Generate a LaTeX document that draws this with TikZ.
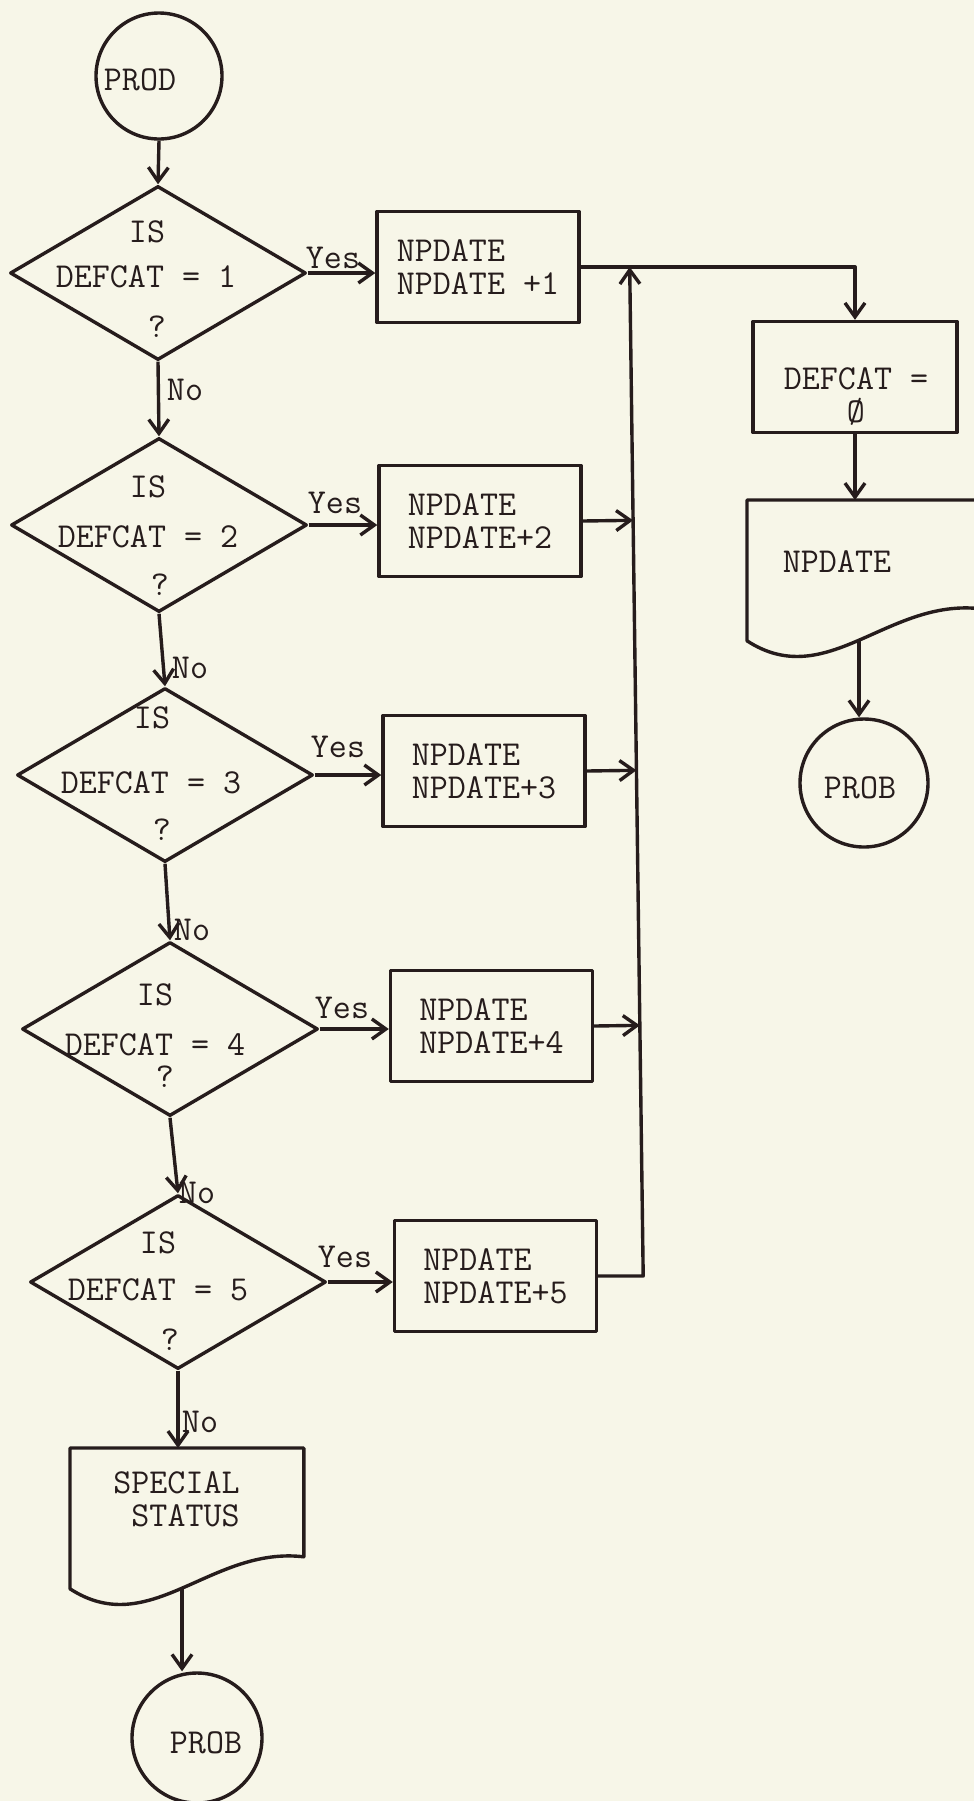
\documentclass[tikz,border=0pt]{standalone}
\usetikzlibrary{shapes.geometric,arrows.meta,calc}
\definecolor{paper}{RGB}{247,246,232}
\definecolor{ink}{RGB}{38,28,28}
\newcommand{\tfont}{\ttfamily\fontsize{17.5pt}{16.5pt}\selectfont}
\newcommand{\docoutline}[1]{%
  \draw[ln] (#1.north west) -- (#1.north east) -- (#1.south east)
    .. controls ($(#1.south east)+(-93,-11)$) and ($(#1.south west)+(80,84)$) ..
    coordinate[pos=0.5] (#1out) ($(#1.south west)+(0,32)$) -- cycle;}
\tikzset{
  ln/.style={draw=ink, line width=1.7pt, line join=round},
  arr/.style={ln, -{Straight Barb[length=7pt,width=10pt]}},
  txt/.style={text=ink, font=\tfont, inner sep=0pt},
  dec/.style={diamond, ln, minimum width=148pt, minimum height=87pt, inner sep=0pt},
  proc/.style={rectangle, ln, minimum width=101pt, minimum height=55.5pt, inner sep=0pt, align=left, font=\tfont, text=ink},
  term/.style={circle, ln, inner sep=0pt},
  docbox/.style={rectangle, draw=none, minimum width=116.5pt, minimum height=54pt, inner sep=0pt, anchor=north west},
}
\begin{document}
\begin{tikzpicture}[x=0.5pt,y=-0.5pt]
\fill[paper] (0,0) rectangle (974,1801);
\useasboundingbox (0,0) rectangle (974,1801);
\begin{scope}
\clip (0,0) rectangle (974,1801);

% start terminal
\node[term, minimum size=63pt] (prod) at (159,76) {};
\node[txt] at (140,80) {PROD};

% decisions
\node[dec] (d1) at (158,273) {};
\node[dec] (d2) at (159,525) {};
\node[dec] (d3) at (165,775) {};
\node[dec] (d4) at (170,1029) {};
\node[dec] (d5) at (178,1282) {};

\node[txt] at (147,232) {IS};
\node[txt] at (146,277) {DEFCAT = 1};
\node[txt] at (157,327) {?};
\node[txt] at (148,487) {IS};
\node[txt] at (148,537) {DEFCAT = 2};
\node[txt] at (160,585) {?};
\node[txt] at (152,718) {IS};
\node[txt] at (151,783) {DEFCAT = 3};
\node[txt] at (162,830) {?};
\node[txt] at (155,995) {IS};
\node[txt] at (155,1045) {DEFCAT = 4};
\node[txt] at (165,1077) {?};
\node[txt] at (158,1243) {IS};
\node[txt] at (158,1290) {DEFCAT = 5};
\node[txt] at (170,1340) {?};

% process boxes
\node[proc] (b1) at (478,267) {NPDATE\\NPDATE +1};
\node[proc] (b2) at (480,521) {NPDATE\\NPDATE+2};
\node[proc] (b3) at (484,771) {NPDATE\\NPDATE+3};
\node[proc] (b4) at (491.5,1026) {NPDATE\\NPDATE+4};
\node[proc] (b5) at (495.5,1276) {NPDATE\\NPDATE+5};

\node[proc, minimum width=102pt] (dc) at (855,377) {};
\node[txt, align=center] at (856,397) {DEFCAT =\\\O};

% documents
\node[docbox] (npd) at (747,500) {};
\docoutline{npd}
\node[txt] at (837,562) {NPDATE};

\node[docbox] (spec) at (70,1448) {};
\docoutline{spec}
\node[txt, align=right, anchor=east] at (240,1499) {SPECIAL\\STATUS};

% end terminals
\node[term, minimum size=64pt] (prob1) at (864,783) {};
\node[txt] at (860,788) {PROB};
\node[term, minimum size=65pt] (prob2) at (197,1738) {};
\node[txt] at (206,1743) {PROB};

% labels
\node[txt] at (333,258) {Yes};
\node[txt] at (335,503) {Yes};
\node[txt] at (338,747) {Yes};
\node[txt] at (342,1008) {Yes};
\node[txt] at (345,1257) {Yes};
\node[txt] at (185,390) {No};
\node[txt] at (190,668) {No};
\node[txt] at (192,930) {No};
\node[txt] at (197,1193) {No};
\node[txt] at (200,1422) {No};

% main column connectors
\draw[arr] (prod.south) -- (d1.north);
\draw[arr] (d1.south) -- (d2.north);
\draw[arr] (d2.south) -- (d3.north);
\draw[arr] (d3.south) -- (d4.north);
\draw[arr] (d4.south) -- (d5.north);
\draw[arr] (d5.south) -- (d5.south |- spec.north);
\draw[arr] (specout) -- (specout |- prob2.north);

% yes branches
\draw[arr] (d1.east) -- (d1.east -| b1.west);
\draw[arr] (d2.east) -- (d2.east -| b2.west);
\draw[arr] (d3.east) -- (d3.east -| b3.west);
\draw[arr] (d4.east) -- (d4.east -| b4.west);
\draw[arr] (d5.east) -- (d5.east -| b5.west);

% collector
\path (b1.east) ++(49,0) coordinate (ctop);
\path (b5.east) ++(45,0) coordinate (cbot);
\draw[arr] (b1.east) -| (dc.north);
\draw[arr] (b5.east) -- (cbot) -- (ctop);
\draw[arr] (b2.east) -- ($(ctop)!(b2.east)!(cbot)$);
\draw[arr] (b3.east) -- ($(ctop)!(b3.east)!(cbot)$);
\draw[arr] (b4.east) -- ($(ctop)!(b4.east)!(cbot)$);

% right column
\draw[arr] (dc.south) -- (dc.south |- npd.north);
\draw[arr] (npdout) -- (npdout |- prob1.north);
\end{scope}
\end{tikzpicture}
\end{document}
